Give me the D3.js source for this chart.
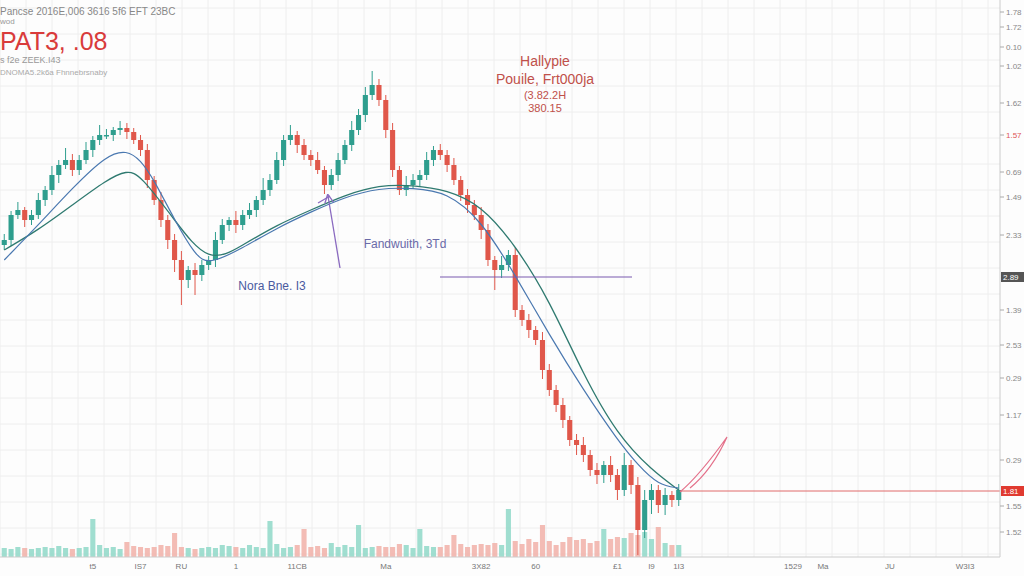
<!DOCTYPE html>
<html><head><meta charset="utf-8">
<script src="https://cdn.jsdelivr.net/npm/d3@7"></script>
<style>body{margin:0;background:#fdfdfd;font-family:"Liberation Sans",Arial,sans-serif}</style>
</head><body><svg width="1024" height="576"></svg>
<script>
// candle closes (value units)
const closes = [360,385,390,380,385, 400,410,425,435,440, 430,440,450,460,465, 465,470,472,468,460,
  450,420,400,380,360, 340,320,330,325,335, 340,360,375,380,375, 385,390,400,410,420,
  440,460,465,455,445, 440,430,415,425,440, 455,470,485,505,515, 500,470,430,410,415,
  420,425,440,450,445, 435,420,405,395,385, 370,340,330,335,345, 290,280,270,260,230,
  210,195,180,160,155, 145,130,125,135,125, 110,135,115,70,100, 110,95,105,100,110];
const firstOpen = 355;
const wickUp = [6,4,8,3,5, 7,4,9,5,12, 6,5,8,4,10, 6,3,7,5,4, 5,6,4,8,5, 6,9,4,7,5, 4,8,6,3,9, 5,7,4,12,6,
  8,5,10,4,6, 5,8,4,6,7, 5,9,6,8,14, 6,5,7,4,9, 6,5,8,4,6, 5,7,4,6,5, 8,6,4,9,5, 7,5,6,4,8,
  6,5,7,4,6, 8,5,7,4,9, 6,12,5,8,10, 6,5,7,4,6];
const wickDn = [5,6,4,7,5, 4,6,5,8,4, 6,5,4,7,5, 4,6,5,7,4, 6,8,5,7,9, 12,25,8,20,6, 5,7,4,6,8,
  5,4,7,5,6, 4,6,5,8,5, 6,4,9,5,6, 4,6,5,7,5, 6,8,7,5,6, 4,7,5,6,5, 7,5,6,8,5, 9,6,20,8,6,
  7,6,8,5,9, 6,7,8,6,10, 7,6,9,8,7, 10,6,9,25,8, 14,8,10,7,6];
const volumes = [9,8,10,9,8, 9,10,9,11,9, 8,9,10,9,12, 9,10,8,9,11, 10,9,10,12,11, 24,10,9,8,9,
  10,9,12,11,10, 9,12,10,9,11, 13,9,10,12,9, 10,11,9,14,10, 12,10,11,9,10, 11,10,10,13,12,
  9,12,11,10,10, 12,11,13,10,12, 13,12,14,12,15, 16,13,14,15,18, 16,12,15,20,17, 18,14,16,22,18,
  20,19,24,22,25, 18,16,14,12,12];
const volSpikes = [[13,38],[18,15],[39,36],[44,28],[74,48],[52,32],[61,28],[66,22],[79,32],[77,18],[88,28],[96,30]];
const maSlow = [[0,350],[5,370],[10,395],[15,420],[18,430],[20,425],[25,380],[30,335],[35,355],[40,375],[45,390],
  [50,405],[55,415],[60,415],[65,410],[70,395],[75,355],[80,300],[85,225],[90,165],[95,130],[99,110]];
const maFast = [[0,340],[5,375],[10,412],[15,445],[18,450],[20,440],[22,420],[25,380],[28,345],[30,335],
  [35,352],[40,372],[45,388],[50,403],[55,412],[60,412],[65,408],[70,380],[75,325],[80,265],[85,210],
  [90,160],[93,135],[96,115],[99,112]];
const yTicks = [[588,"1.78"],[573,"1.72"],[553,"0.10"],[534,"1.02"],[497,"1.62"],[465,"1.57"],[428,"0.69"],
  [403,"1.49"],[365,"2.33"],[290,"1.39"],[255,"2.53"],[222,"0.29"],[185,"1.17"],[140,"0.29"],[94,"1.55"],[68,"1.52"]];
const xTicks = [[13,"t5"],[20,"IS7"],[26,"RU"],[34,"1"],[43,"11CB"],[56,"Ma"],[70,"3X82"],[78,"60"],[90,"£1"],[95,"I9"],[99,"1I3"]];
const xTicksFuture = [[793,"1529"],[823,"Ma"],[890,"JU"],[965,"W3I3"]];

const svg = d3.select("svg");
const x = d3.scaleBand().domain(d3.range(closes.length)).range([0, 683]).padding(0.25);
const y = d3.scaleLinear().domain([0, 600]).range([600, 0]);
const up = "#2e9e8e", down = "#e0574a";

// grid
const g = svg.append("g");
d3.range(0, 1000, 26).forEach(v => g.append("line").attr("x1", v).attr("x2", v).attr("y1", 0).attr("y2", 557).attr("stroke", "#eeeeee"));
d3.range(8, 557, 26).forEach(v => g.append("line").attr("x1", 0).attr("x2", 1000).attr("y1", v).attr("y2", v).attr("stroke", "#eeeeee"));

// volumes
const vol = volumes.slice();
volSpikes.forEach(([i, v]) => vol[i] = v);
const candles = closes.map((c, i) => {
  const o = i ? closes[i - 1] : firstOpen;
  return {i, o, c, h: Math.max(o, c) + wickUp[i], l: Math.min(o, c) - wickDn[i], v: vol[i]};
});
svg.append("g").selectAll("rect").data(candles).join("rect")
  .attr("x", d => x(d.i)).attr("width", x.bandwidth())
  .attr("y", d => 557 - d.v).attr("height", d => d.v)
  .attr("fill", d => d.c >= d.o ? "#8fd8c8" : "#f1b0a8").attr("opacity", 0.85);

// candles
const cg = svg.append("g").selectAll("g").data(candles).join("g");
cg.append("line").attr("x1", d => x(d.i) + x.bandwidth() / 2).attr("x2", d => x(d.i) + x.bandwidth() / 2)
  .attr("y1", d => y(d.h)).attr("y2", d => y(d.l)).attr("stroke", d => d.c >= d.o ? up : down);
cg.append("rect").attr("x", d => x(d.i)).attr("width", x.bandwidth())
  .attr("y", d => y(Math.max(d.o, d.c))).attr("height", d => Math.max(1.5, Math.abs(y(d.o) - y(d.c))))
  .attr("fill", d => d.c >= d.o ? up : down);

// moving averages
const line = d3.line().x(d => x(d[0]) + x.bandwidth() / 2).y(d => y(d[1])).curve(d3.curveBasis);
svg.append("path").attr("d", line(maSlow)).attr("fill", "none").attr("stroke", "#2f7a70").attr("stroke-width", 1.3);
svg.append("path").attr("d", line(maFast)).attr("fill", "none").attr("stroke", "#4a78b0").attr("stroke-width", 1.2);

// annotations
svg.append("line").attr("x1", 440).attr("x2", 632).attr("y1", 277).attr("y2", 277).attr("stroke", "#7a5ab0").attr("stroke-width", 1.2);
svg.append("line").attr("x1", 680).attr("x2", 1000).attr("y1", 491).attr("y2", 491).attr("stroke", "#e06a6a").attr("stroke-width", 1);
svg.append("defs").append("marker").attr("id", "ah").attr("viewBox", "0 0 10 10").attr("refX", 8).attr("refY", 5)
  .attr("markerWidth", 7).attr("markerHeight", 7).attr("orient", "auto")
  .append("path").attr("d", "M0,0L10,5L0,10").attr("fill", "none").attr("stroke", "#8a6ac0").attr("stroke-width", 1.5);
svg.append("path").attr("d", "M340,268 L328,196").attr("stroke", "#8a6ac0").attr("stroke-width", 1.3).attr("marker-end", "url(#ah)");
svg.append("path").attr("d", "M330,196 L318,203").attr("stroke", "#8a6ac0").attr("stroke-width", 1.3);
svg.append("path").attr("d", "M680,492 Q700,475 727,437 Q712,470 690,488").attr("fill", "none").attr("stroke", "#e4708a").attr("stroke-width", 1.2);

const txt = (xx, yy, s, size, col, anchor = "start") => svg.append("text").attr("x", xx).attr("y", yy)
  .attr("font-size", size).attr("fill", col).attr("text-anchor", anchor).text(s);
txt(0, 15, "Pancse 2016E,006 3616 5f6 EFT 23BC", 10, "#888");
txt(0, 24, "wod", 8, "#999");
txt(0, 50, "PAT3, .08", 25, "#d93b3b");
txt(0, 63, "s f2e ZEEK.I43", 9, "#999");
txt(0, 75, "DNOMA5.2k6a Fhnnebrsnaby", 8, "#aaa");
txt(545, 66, "Hallypie", 14, "#c0504a", "middle");
txt(545, 84, "Pouile, Frt000ja", 14, "#c0504a", "middle");
txt(545, 99, "(3.82.2H", 11, "#c0504a", "middle");
txt(545, 112, "380.15", 11, "#c0504a", "middle");
txt(405, 248, "Fandwuith, 3Td", 12, "#6a6aa8", "middle");
txt(272, 290, "Nora Bne. I3", 12, "#4a5aa0", "middle");

// right axis
svg.append("line").attr("x1", 1000).attr("x2", 1000).attr("y1", 0).attr("y2", 557).attr("stroke", "#ccc");
yTicks.forEach(([v, s]) => {
  svg.append("line").attr("x1", 1000).attr("x2", 1004).attr("y1", y(v)).attr("y2", y(v)).attr("stroke", "#aaa");
  txt(1006, y(v) + 3, s, 8, v === 465 ? "#d55" : "#888");
});
svg.append("rect").attr("x", 1001).attr("y", 272).attr("width", 23).attr("height", 10).attr("fill", "#555");
txt(1003, 280, "2.89", 8, "#fff");
svg.append("rect").attr("x", 1001).attr("y", 486).attr("width", 23).attr("height", 10).attr("fill", "#e03a30");
txt(1003, 494, "1.81", 8, "#fff");

// bottom axis
svg.append("line").attr("x1", 0).attr("x2", 1000).attr("y1", 557).attr("y2", 557).attr("stroke", "#ccc");
xTicks.forEach(([i, s]) => txt(x(i) + x.bandwidth() / 2, 569, s, 8, "#777", "middle"));
xTicksFuture.forEach(([p, s]) => txt(p, 569, s, 8, "#777", "middle"));
</script></body></html>
